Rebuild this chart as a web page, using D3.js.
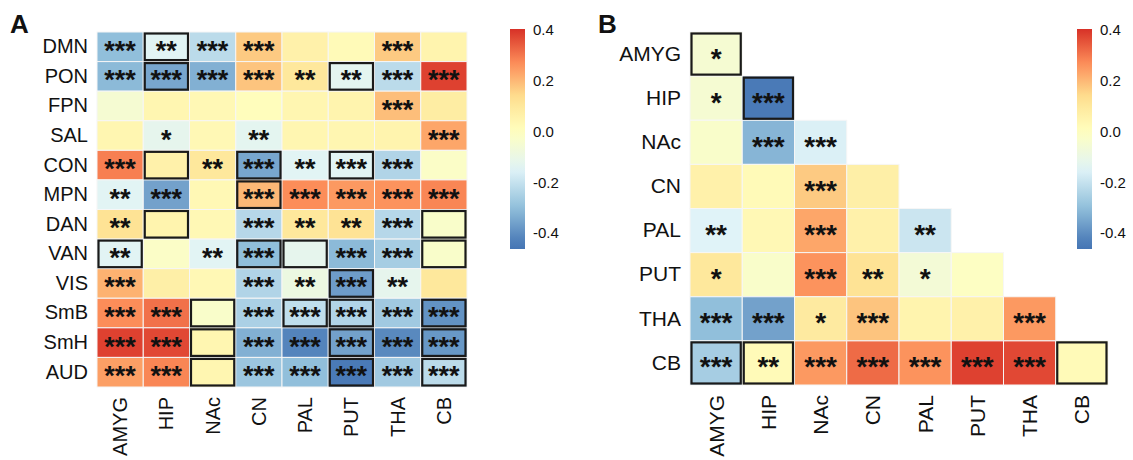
<!DOCTYPE html>
<html>
<head>
<meta charset="utf-8">
<script src="https://cdn.jsdelivr.net/npm/d3@7/dist/d3.min.js"></script>
<style>
  html, body { margin: 0; padding: 0; background: #fff; }
  svg { display: block; font-family: "Liberation Sans", Arial, Helvetica, sans-serif; }
</style>
</head>
<body>
<svg id="chart" width="1133" height="460"></svg>
<script>
// ---------- Panel A: networks x subcortical regions ----------
const networksA = ["DMN", "PON", "FPN", "SAL", "CON", "MPN", "DAN", "VAN", "VIS", "SmB", "SmH", "AUD"];
const regionsA = ["AMYG", "HIP", "NAc", "CN", "PAL", "PUT", "THA", "CB"];

const valuesA = [
  [-0.30, -0.14, -0.22,  0.17,  0.06,  0.02,  0.17,  0.05],
  [-0.31, -0.35, -0.33,  0.18,  0.10, -0.13, -0.22,  0.38],
  [-0.05,  0.04,  0.03,  0.01,  0.04,  0.05,  0.19,  0.08],
  [ 0.04, -0.12,  0.03, -0.13,  0.04,  0.04,  0.05,  0.23],
  [ 0.29,  0.06,  0.10, -0.35, -0.14, -0.14, -0.24, -0.02],
  [-0.14, -0.36,  0.03,  0.20,  0.27,  0.25,  0.26,  0.28],
  [ 0.12,  0.05,  0.03, -0.23,  0.10,  0.12, -0.23, -0.03],
  [-0.14, -0.02, -0.14, -0.30, -0.12, -0.31, -0.26, -0.03],
  [ 0.21,  0.07,  0.03, -0.24, -0.09, -0.37, -0.12,  0.10],
  [ 0.27,  0.31, -0.03, -0.25, -0.21, -0.24, -0.27, -0.39],
  [ 0.38,  0.37,  0.04, -0.33, -0.42, -0.36, -0.41, -0.38],
  [ 0.24,  0.28,  0.04, -0.28, -0.30, -0.44, -0.27, -0.22]
];

const starsA = [
  ["***", "**",  "***", "***", "",    "",    "***", ""],
  ["***", "***", "***", "***", "**",  "**",  "***", "***"],
  ["",    "",    "",    "",    "",    "",    "***", ""],
  ["",    "*",   "",    "**",  "",    "",    "",    "***"],
  ["***", "",    "**",  "***", "**",  "***", "***", ""],
  ["**",  "***", "",    "***", "***", "***", "***", "***"],
  ["**",  "",    "",    "***", "**",  "**",  "***", ""],
  ["**",  "",    "**",  "***", "",    "***", "***", ""],
  ["***", "",    "",    "***", "**",  "***", "**",  ""],
  ["***", "***", "",    "***", "***", "***", "***", "***"],
  ["***", "***", "",    "***", "***", "***", "***", "***"],
  ["***", "***", "",    "***", "***", "***", "***", "***"]
];

// highlighted cells [row, column]
const outlinedA = [
  ["DMN", "HIP"], ["PON", "HIP"], ["PON", "PUT"],
  ["CON", "HIP"], ["CON", "CN"], ["CON", "PUT"],
  ["MPN", "CN"], ["DAN", "HIP"], ["DAN", "CB"],
  ["VAN", "AMYG"], ["VAN", "CN"], ["VAN", "PAL"], ["VAN", "CB"],
  ["VIS", "PUT"],
  ["SmB", "NAc"], ["SmB", "PAL"], ["SmB", "PUT"], ["SmB", "CB"],
  ["SmH", "NAc"], ["SmH", "PUT"], ["SmH", "CB"],
  ["AUD", "NAc"], ["AUD", "PUT"], ["AUD", "CB"]
];

// ---------- Panel B: region x region (lower triangle) ----------
const regionsB = ["AMYG", "HIP", "NAc", "CN", "PAL", "PUT", "THA", "CB"];

const valuesB = [
  [-0.05],
  [-0.05, -0.44],
  [-0.03, -0.32, -0.16],
  [ 0.06,  0.02,  0.17,  0.07],
  [-0.15,  0.03,  0.23,  0.06, -0.19],
  [ 0.10, -0.03,  0.26,  0.12, -0.06, -0.01],
  [-0.30, -0.36,  0.09,  0.18,  0.05,  0.06,  0.25],
  [-0.26,  0.02,  0.25,  0.32,  0.26,  0.38,  0.37,  0.02]
];

const starsB = [
  ["*"],
  ["*", "***"],
  ["", "***", "***"],
  ["", "", "***", ""],
  ["**", "", "***", "", "**"],
  ["*", "", "***", "**", "*", ""],
  ["***", "***", "*", "***", "", "", "***"],
  ["***", "**", "***", "***", "***", "***", "***", ""]
];

const outlinedB = [["AMYG", "AMYG"], ["HIP", "HIP"], ["CB", "AMYG"], ["CB", "HIP"], ["CB", "CB"]];

const legendTicks = [0.4, 0.2, 0.0, -0.2, -0.4];

// ---------- shared colour scale ----------
const colorStops = [-0.45, -0.30, -0.15, 0.0, 0.135, 0.27, 0.405];
const colorRange = ["#4575b4", "#91bfdb", "#e0f3f8", "#ffffbf", "#fee090", "#fc8d59", "#d73027"];
const color = d3.scaleLinear().domain(colorStops).range(colorRange).interpolate(d3.interpolateRgb).clamp(true);

const svg = d3.select("#chart");

function drawHeatmap(opts) {
  const { rows, cols, values, stars, outlined, x0, x1, y0, y1, labelSize, starSize } = opts;
  const g = svg.append("g");
  const x = d3.scaleBand().domain(cols).range([x0, x1]);
  const y = d3.scaleBand().domain(rows).range([y0, y1]);

  const cells = [];
  rows.forEach((r, i) => {
    values[i].forEach((v, j) => {
      if (v === null || v === undefined) return;
      cells.push({ row: r, col: cols[j], value: v, star: stars[i][j] });
    });
  });

  g.selectAll("rect.cell").data(cells).join("rect")
    .attr("class", "cell")
    .attr("x", d => x(d.col))
    .attr("y", d => y(d.row))
    .attr("width", x.bandwidth())
    .attr("height", y.bandwidth())
    .attr("fill", d => color(d.value))
    .attr("stroke", "#f6f6f6")
    .attr("stroke-width", 1);

  g.selectAll("rect.outline").data(outlined).join("rect")
    .attr("class", "outline")
    .attr("x", d => x(d[1]) + 1.5)
    .attr("y", d => y(d[0]) + 1.5)
    .attr("width", x.bandwidth() - 3)
    .attr("height", y.bandwidth() - 3)
    .attr("fill", "none")
    .attr("stroke", "#1a1a1a")
    .attr("stroke-width", 2.2);

  g.selectAll("text.star").data(cells.filter(d => d.star)).join("text")
    .attr("class", "star")
    .attr("x", d => x(d.col) + x.bandwidth() / 2)
    .attr("y", d => y(d.row) + y.bandwidth() / 2 + starSize * 0.48)
    .attr("text-anchor", "middle")
    .attr("font-size", starSize)
    .attr("font-weight", "bold")
    .attr("fill", "#111")
    .text(d => d.star);

  // row labels
  const yAxis = d3.axisLeft(y).tickSize(0).tickPadding(9);
  const ya = g.append("g").attr("transform", `translate(${x0},0)`).call(yAxis);
  ya.select(".domain").remove();
  ya.selectAll("text").attr("font-size", labelSize).attr("fill", "#111")
    .attr("font-family", "Liberation Sans, Arial, sans-serif");

  // column labels (rotated)
  const xAxis = d3.axisBottom(x).tickSize(0).tickPadding(0);
  const xa = g.append("g").attr("transform", `translate(0,${y1})`).call(xAxis);
  xa.select(".domain").remove();
  xa.selectAll("text")
    .attr("font-size", labelSize).attr("fill", "#111")
    .attr("font-family", "Liberation Sans, Arial, sans-serif")
    .attr("text-anchor", "end")
    .attr("dy", null)
    .attr("dominant-baseline", "central")
    .attr("transform", "translate(0,10) rotate(-90)");
}

function drawLegend(xPos, yTop, yBot, id) {
  const w = 15;
  const scaleY = d3.scaleLinear().domain([-0.463, 0.404]).range([yBot, yTop]);
  const defs = svg.append("defs");
  const grad = defs.append("linearGradient").attr("id", id)
    .attr("x1", 0).attr("y1", 1).attr("x2", 0).attr("y2", 0);
  d3.range(0, 1.0001, 0.05).forEach(t => {
    const v = scaleY.invert(yBot + (yTop - yBot) * t);
    grad.append("stop").attr("offset", t).attr("stop-color", color(v));
  });
  svg.append("rect").attr("x", xPos).attr("y", yTop).attr("width", w).attr("height", yBot - yTop)
    .attr("fill", `url(#${id})`);
  const ax = d3.axisRight(scaleY).tickValues(legendTicks).tickSize(0).tickPadding(8);
  const ga = svg.append("g").attr("transform", `translate(${xPos + w},0)`).call(ax);
  ga.select(".domain").remove();
  ga.selectAll("text").attr("font-size", 15).attr("fill", "#111")
    .attr("font-family", "Liberation Sans, Arial, sans-serif")
    .text(d => d3.format(".1f")(d).replace("−", "-"));
}

drawHeatmap({
  rows: networksA, cols: regionsA, values: valuesA, stars: starsA, outlined: outlinedA,
  x0: 97, x1: 467, y0: 32, y1: 387, labelSize: 20, starSize: 27
});

drawHeatmap({
  rows: regionsB, cols: regionsB, values: valuesB, stars: starsB, outlined: outlinedB,
  x0: 690, x1: 1108, y0: 32, y1: 385, labelSize: 21, starSize: 28
});

drawLegend(510, 29, 249, "gradA");
drawLegend(1077, 29, 249, "gradB");

// panel letters
svg.append("text").attr("x", 10).attr("y", 33).attr("font-size", 26).attr("font-weight", "bold")
  .attr("fill", "#111").text("A");
svg.append("text").attr("x", 598).attr("y", 33).attr("font-size", 26).attr("font-weight", "bold")
  .attr("fill", "#111").text("B");
</script>
</body>
</html>
